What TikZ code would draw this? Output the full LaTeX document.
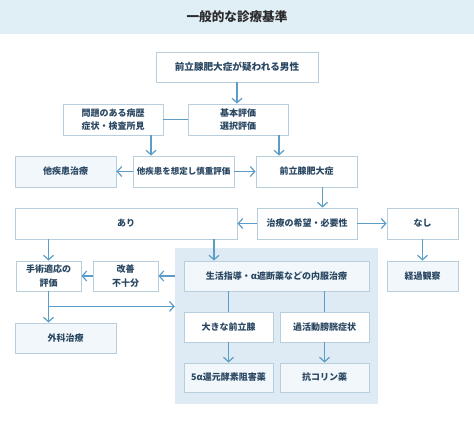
\documentclass[tikz,border=0pt]{standalone}
\usepackage{fontspec}
\setmainfont{Noto Sans CJK JP}
\usetikzlibrary{arrows.meta}
\definecolor{bandblue}{HTML}{E0EEF6}
\definecolor{groupblue}{HTML}{DFEBF4}
\definecolor{lightfill}{HTML}{F1F7FB}
\definecolor{edgegray}{HTML}{B9CEDC}
\definecolor{arrowblue}{HTML}{5B9DC7}
\definecolor{textnavy}{HTML}{2A4762}
\begin{document}
\begin{tikzpicture}[x=1pt, y=-1pt,
  box/.style={draw=edgegray, fill=white, line width=0.9pt, text=textnavy,
    font=\fontsize{9}{13.3}\selectfont\bfseries, align=center, inner sep=0pt,
    minimum width=#1, minimum height=30pt},
  box/.default=101pt,
  litebox/.style={box=#1, fill=lightfill},
  litebox/.default=101pt,
  arr/.style={draw=arrowblue, line width=1.3pt, -{Straight Barb[length=4.5pt, width=10pt, line width=1.2pt]}},
  link/.style={draw=arrowblue, line width=1.3pt}]
  \useasboundingbox (0,0) rectangle (474,422);
  % --- title band ---
  \fill[bandblue] (0,0) rectangle (474,34);
  \node (title) at (237,17) {\fontsize{12.6}{14}\selectfont\bfseries\color[HTML]{2B2B2B}一般的な診療基準};
  % --- medication group backdrop ---
  \node[fill=groupblue, minimum width=203pt, minimum height=156pt, inner sep=0pt] (group) at (276.5,326) {};
  % --- boxes ---
  \node[box=162pt, font=\fontsize{9.6}{13.3}\selectfont\bfseries] (suspect) at (237,67) {前立腺肥大症が疑われる男性};
  \node[box=100pt, minimum height=31pt] (history) at (113,119.5) {問題のある病歴\\症状・検査所見};
  \node[box=100pt, minimum height=31pt] (basic) at (238,119.5) {基本評価\\選択評価};
  \node[litebox, minimum height=31pt] (other) at (65.5,171.5) {他疾患治療};
  \node[box, minimum height=31pt, font=\fontsize{8.5}{13.3}\selectfont\bfseries] (careful) at (183.5,171.5) {他疾患を想定し慎重評価};
  \node[box, minimum height=31pt] (bph) at (306.5,171.5) {前立腺肥大症};
  \node[box=222pt, minimum height=31pt] (yes) at (126,223.5) {あり};
  \node[box=100pt, minimum height=31pt] (wish) at (307,223.5) {治療の希望・必要性};
  \node[box=71pt, minimum height=31pt] (no) at (422.5,223.5) {なし};
  \node[box=65pt] (surgeval) at (48.5,276) {手術適応の\\評価};
  \node[box=65pt] (poor) at (125.5,276) {改善\\不十分};
  \node[litebox=185pt] (oral) at (276.5,276) {生活指導・α遮断薬などの内服治療};
  \node[litebox=71pt] (watch) at (422.5,276) {経過観察};
  \node[litebox] (surgery) at (65.5,338) {外科治療};
  \node[box=89pt] (large) at (228.5,327) {大きな前立腺};
  \node[box=89pt] (oab) at (324.5,327) {過活動膀胱症状};
  \node[litebox=89pt, minimum height=29pt] (ari) at (228.5,377.5) {5α還元酵素阻害薬};
  \node[litebox=89pt, minimum height=29pt] (anticho) at (324.5,377.5) {抗コリン薬};
  % --- connectors ---
  \draw[arr] (suspect.south) -- (suspect.south |- basic.north);
  \draw[link] (history.east) -- (basic.west);
  \coordinate (h1) at ([xshift=38pt]history.south);
  \coordinate (b1) at ([xshift=41pt]basic.south);
  \draw[arr] (h1) -- (h1 |- careful.north);
  \draw[arr] (b1) -- (b1 |- bph.north);
  \draw[arr] (careful.west) -- (other.east);
  \draw[arr] (careful.east) -- (bph.west);
  \coordinate (p1) at ([xshift=16pt]bph.south);
  \draw[arr] (p1) -- (p1 |- wish.north);
  \draw[arr] (wish.west) -- (yes.east);
  \draw[arr] (wish.east) -- (no.west);
  \draw[arr] (yes.south -| surgeval.north) -- (surgeval.north);
  \coordinate (y1) at (214,0);
  \draw[arr] (y1 |- yes.south) -- (y1 |- oral.north);
  \draw[arr] (no.south) -- (watch.north);
  \draw[arr] (group.west |- poor.east) -- (poor.east);
  \draw[arr] (poor.west) -- (surgeval.east);
  \draw[arr] (surgeval.south) -- (surgeval.south |- surgery.north);
  \coordinate (s1) at ([yshift=-15pt]surgeval.south);
  \draw[arr] (s1) -- (s1 -| group.west);
  \draw[link] (oral.south -| large.north) -- (large.north);
  \draw[link] (oral.south -| oab.north) -- (oab.north);
  \draw[arr] (large.south) -- (ari.north);
  \draw[arr] (oab.south) -- (anticho.north);
\end{tikzpicture}
\end{document}
